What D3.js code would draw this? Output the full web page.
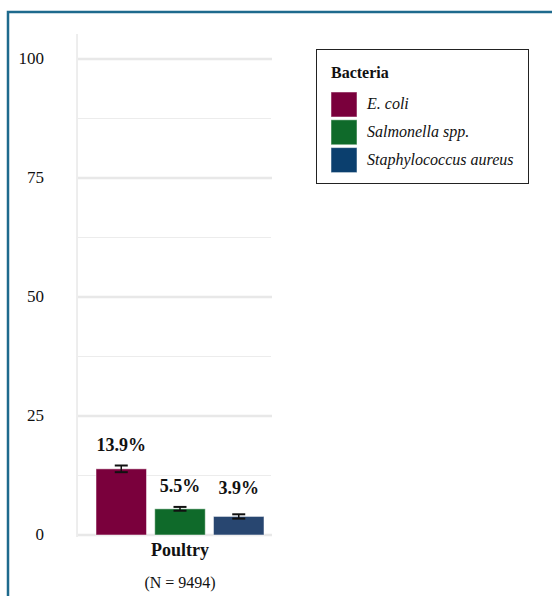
<!DOCTYPE html>
<html lang="en">
  <head>
    <meta charset="utf-8">
    <title>Bacteria prevalence - Poultry</title>
    <script src="https://cdn.jsdelivr.net/npm/d3@7"></script>
    <style>
      body { margin: 0; background: #fff; }
    </style>
  </head>
  <body>
    <script>
      var w = 552;
      var h = 596;
      var serif = "'Liberation Serif'";

      // data
      var bacteria = ["E. coli", "Salmonella spp.", "Staphylococcus aureus"];
      var prevalence = [13.9, 5.5, 3.9];
      var ciLow = [13.2, 5.1, 3.45];
      var ciHigh = [14.6, 5.9, 4.35];
      var barColors = ["#7a003c", "#0f6a2a", "#284670"];
      var legendColors = ["#7a003c", "#0f6a2a", "#0b3f6e"];
      var category = "Poultry";
      var sampleN = "(N = 9494)";
      var yTicks = [0, 25, 50, 75, 100];
      var yMinorTicks = [12.5, 37.5, 62.5, 87.5];

      var svg = d3.select("body").append("svg")
                  .attr("width", w)
                  .attr("height", h)
                  .attr("font-family", serif)
                  .attr("fill", "#111");

      // outer frame (only top and left visible)
      svg.append("path")
         .attr("d", "M8," + h + " V12 H" + w)
         .attr("fill", "none")
         .attr("stroke", "#1e6a8d")
         .attr("stroke-width", 2.5);

      var yScale = d3.scaleLinear().domain([0, 100]).range([535, 59]);

      var xScale = d3.scaleBand()
                     .domain(bacteria)
                     .range([96, 264])
                     .paddingInner(0.14)
                     .paddingOuter(0);

      // gridlines
      svg.selectAll(".minor").data(yMinorTicks).enter().append("line")
         .attr("x1", 78).attr("x2", 271)
         .attr("y1", function(d) { return yScale(d); })
         .attr("y2", function(d) { return yScale(d); })
         .attr("stroke", "#ececec").attr("stroke-width", 1);

      svg.selectAll(".major").data(yTicks).enter().append("line")
         .attr("x1", 78).attr("x2", 272)
         .attr("y1", function(d) { return yScale(d); })
         .attr("y2", function(d) { return yScale(d); })
         .attr("stroke", "#e8e8e8").attr("stroke-width", 2.5);

      // y axis line
      svg.append("line")
         .attr("x1", 77).attr("x2", 77)
         .attr("y1", 34).attr("y2", 537)
         .attr("stroke", "#dcdcdc").attr("stroke-width", 1);

      // tick labels
      svg.selectAll(".ytick").data(yTicks).enter().append("text")
         .attr("x", 44)
         .attr("y", function(d) { return yScale(d) + 5; })
         .attr("text-anchor", "end")
         .attr("font-family", serif)
         .attr("font-size", 17)
         .text(function(d) { return d; });

      // bars
      svg.selectAll(".bar").data(bacteria).enter().append("rect")
         .attr("x", function(d) { return xScale(d); })
         .attr("y", function(d, i) { return yScale(prevalence[i]); })
         .attr("width", xScale.bandwidth())
         .attr("height", function(d, i) { return yScale(0) - yScale(prevalence[i]); })
         .attr("fill", function(d, i) { return barColors[i]; })
         .attr("stroke", "#fff").attr("stroke-opacity", 0.5);

      // error bars
      var eb = svg.selectAll(".err").data(bacteria).enter().append("g")
                  .attr("stroke", "#111").attr("stroke-width", 2);
      eb.append("line")
        .attr("x1", function(d) { return xScale(d) + xScale.bandwidth() / 2; })
        .attr("x2", function(d) { return xScale(d) + xScale.bandwidth() / 2; })
        .attr("y1", function(d, i) { return yScale(ciLow[i]); })
        .attr("y2", function(d, i) { return yScale(ciHigh[i]); })
        .attr("stroke-width", 1.5);
      eb.append("line")
        .attr("x1", function(d) { return xScale(d) + xScale.bandwidth() / 2 - 6.5; })
        .attr("x2", function(d) { return xScale(d) + xScale.bandwidth() / 2 + 6.5; })
        .attr("y1", function(d, i) { return yScale(ciLow[i]); })
        .attr("y2", function(d, i) { return yScale(ciLow[i]); });
      eb.append("line")
        .attr("x1", function(d) { return xScale(d) + xScale.bandwidth() / 2 - 6.5; })
        .attr("x2", function(d) { return xScale(d) + xScale.bandwidth() / 2 + 6.5; })
        .attr("y1", function(d, i) { return yScale(ciHigh[i]); })
        .attr("y2", function(d, i) { return yScale(ciHigh[i]); });

      // value labels
      svg.selectAll(".val").data(bacteria).enter().append("text")
         .attr("x", function(d) { return xScale(d) + xScale.bandwidth() / 2; })
         .attr("y", function(d, i) { return yScale(Math.max(ciHigh[i], 5.4)) - 15; })
         .attr("text-anchor", "middle")
         .attr("font-family", serif)
         .attr("font-size", 18)
         .attr("font-weight", "bold")
         .text(function(d, i) { return prevalence[i].toFixed(1) + "%"; });

      // category labels
      svg.append("text")
         .attr("x", 180).attr("y", 556)
         .attr("text-anchor", "middle")
         .attr("font-family", serif)
         .attr("font-size", 18).attr("font-weight", "bold")
         .text(category);
      svg.append("text")
         .attr("x", 180).attr("y", 588)
         .attr("text-anchor", "middle")
         .attr("font-family", serif)
         .attr("font-size", 16)
         .text(sampleN);

      // legend
      var lg = svg.append("g").attr("transform", "translate(316,49)");
      lg.append("rect")
        .attr("x", 0.5).attr("y", 0.5)
        .attr("width", 212).attr("height", 134)
        .attr("fill", "#fff").attr("stroke", "#222").attr("stroke-width", 1);
      lg.append("text")
        .attr("x", 15).attr("y", 29)
        .attr("font-family", serif)
        .attr("font-size", 16).attr("font-weight", "bold")
        .text("Bacteria");
      var items = lg.selectAll(".item").data(bacteria).enter().append("g")
                    .attr("transform", function(d, i) { return "translate(15," + (43 + i * 27.8) + ")"; });
      items.append("rect")
           .attr("width", 26).attr("height", 25)
           .attr("fill", function(d, i) { return legendColors[i]; })
           .attr("stroke", "#fff").attr("stroke-opacity", 0.5);
      items.append("text")
           .attr("x", 36).attr("y", 17)
           .attr("font-family", serif)
           .attr("font-size", 16).attr("font-style", "italic")
           .text(function(d) { return d; });
    </script>
  </body>
</html>
